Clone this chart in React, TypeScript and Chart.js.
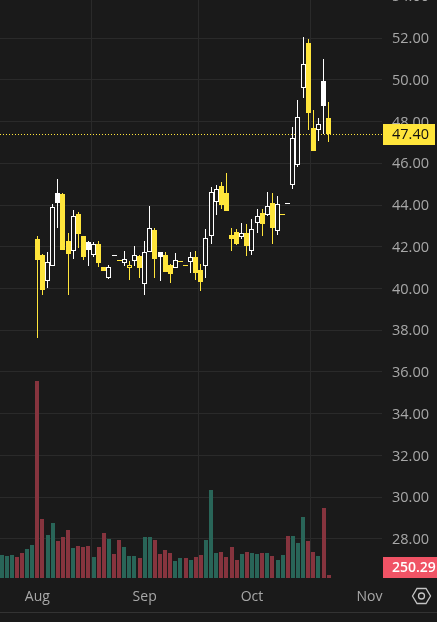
import React, { useEffect, useRef } from "react";
import { Chart, registerables } from "chart.js";

Chart.register(...registerables);

const opens = [null,null,null,null,null,null,null,42.37,41.61,40.36,41.08,44.10,44.53,42.28,41.80,43.57,42.52,41.84,41.61,42.13,41.03,40.50,41.54,41.30,41.22,41.13,41.32,41.56,40.22,41.75,42.80,41.51,41.61,41.13,40.98,41.27,41.06,41.27,41.51,40.89,41.08,42.52,44.14,44.91,44.58,42.56,42.71,42.47,42.66,41.81,43.14,43.62,43.52,44.10,42.75,43.51,44.05,44.97,45.92,49.60,51.76,47.69,47.59,48.74,48.17];
const highs = [null,null,null,null,null,null,null,42.52,41.65,41.75,44.05,45.25,44.58,42.66,43.76,43.67,42.52,42.28,42.23,42.28,41.03,41.13,41.54,41.30,41.80,41.32,42.04,41.61,42.28,43.95,42.90,41.75,41.75,41.17,41.70,41.27,41.06,41.75,41.80,41.17,42.85,44.86,44.96,45.10,45.53,42.90,42.85,43.14,43.09,43.33,43.81,43.81,44.62,44.57,44.43,43.51,44.05,47.74,49.03,52.05,51.95,48.55,48.17,50.99,48.93];
const lows = [null,null,null,null,null,null,null,37.63,39.69,40.02,41.08,42.90,41.84,39.69,41.41,41.94,41.37,41.08,41.51,41.03,40.84,40.46,41.54,41.30,41.08,40.41,41.08,40.50,39.69,41.75,40.50,40.36,40.79,40.26,40.98,41.27,41.06,40.74,40.41,39.88,40.50,42.13,43.52,43.81,43.71,41.80,42.08,42.37,41.56,41.60,42.66,42.51,43.47,42.13,42.56,43.51,44.05,44.77,45.82,49.13,47.59,46.59,47.07,47.40,47.02];
const closes = [null,null,null,null,null,null,null,41.37,39.93,41.27,43.90,44.58,41.84,41.65,43.47,42.61,41.51,42.23,42.13,41.22,40.84,41.03,41.54,41.30,41.41,40.98,41.61,40.98,41.75,42.90,41.41,41.75,40.79,40.70,41.37,41.27,41.06,41.51,40.74,40.31,42.42,44.62,44.77,44.00,43.71,42.37,42.13,42.66,42.04,42.85,43.47,43.09,43.95,42.90,44.05,43.51,44.05,47.21,48.22,50.75,48.41,46.59,47.88,49.94,47.40];
// h = hollow white, f = filled white, y = filled yellow, o = outlined yellow
const candleKinds = "-------yyhhfyyhyyfhyyhhyhohyhhyfyyhyyhyyhhhyyyyhyhhyhyhyhhhhyyhfy".split("");
const volumes = [1840,1760,1840,1680,2000,2320,2640,15760,4720,3440,4400,2960,3280,3840,2400,2560,2480,2560,1680,2480,3600,3120,1920,3040,2480,1760,1760,1600,3280,3280,3040,1920,2240,2000,1360,1600,1600,1440,1680,1840,3040,7040,2000,2080,1680,2480,1440,1920,2080,2000,1920,2000,2000,1760,1440,1840,3360,3360,2800,4880,2960,2080,1760,5600,250.29];
const volumeKinds = "gggrrggrrggrrrgrrrgrrgrrgggrggrrrrggrgrrgggrrrrgrggrgrggrgggrrgrr".split("");
const monthLabels = ["Aug", "Sep", "Oct", "Nov"];
const monthIndexes = [7, 28, 49, 72];
const lastPrice = 47.4;
const lastPriceLabel = "47.40";
const lastVolumeLabel = "250.29";

const BG = "#1a1a1a";
const GRID = "#2a2a2a";
const YELLOW = "#ffe53b";
const WHITE = "#ffffff";
const TEXT = "#a8a8a8";
const FONT = "'Open Sans'";

const snapPlugin = {
  id: "snap",
  beforeDatasetsDraw(chart: any) {
    chart.data.datasets.forEach((_: any, di: number) => {
      const meta = chart.getDatasetMeta(di);
      if (meta.type !== "bar") return;
      meta.data.forEach((el: any) => {
        if (el.skip || el.x == null) return;
        el.x = el.width % 2 ? Math.floor(el.x) + 0.5 : Math.round(el.x);
        const base = Math.round(el.base);
        let y = Math.round(el.y);
        if (y === base) y = base - 1;
        el.base = base;
        el.y = y;
      });
    });
  },
};

const overlayPlugin = {
  id: "overlay",
  beforeDatasetsDraw(chart: any) {
    const { ctx, chartArea, scales } = chart;
    const y = Math.round(scales.y.getPixelForValue(lastPrice)) + 0.5;
    ctx.save();
    ctx.strokeStyle = YELLOW;
    ctx.lineWidth = 1;
    ctx.setLineDash([1, 2]);
    ctx.beginPath();
    ctx.moveTo(chartArea.left, y);
    ctx.lineTo(chartArea.right, y);
    ctx.stroke();
    ctx.restore();
  },
  afterDraw(chart: any) {
    const { ctx, chartArea, scales, width, height } = chart;
    const left = chartArea.right + 1;
    const textX = chartArea.right + 10;
    const priceY = scales.y.getPixelForValue(lastPrice);
    const volY = chartArea.bottom;
    ctx.save();
    // bottom separator
    ctx.fillStyle = "#333333";
    ctx.fillRect(0, height - 10, width, 1);
    // price badge
    ctx.fillStyle = YELLOW;
    ctx.fillRect(left, Math.round(priceY) - 10, 52, 21);
    ctx.font = `14.5px ${FONT}`;
    ctx.textAlign = "left";
    ctx.textBaseline = "middle";
    ctx.fillStyle = "#111111";
    ctx.fillText(lastPriceLabel, textX, Math.round(priceY) + 1);
    // volume badge
    ctx.fillStyle = "#f05365";
    ctx.fillRect(left, volY - 21, width - left, 21);
    ctx.fillStyle = "#ffffff";
    ctx.font = `600 14px ${FONT}`;
    ctx.fillText(lastVolumeLabel, textX, volY - 10);
    // settings hexagon
    const cx = 421.5;
    const cy = chartArea.bottom + 18;
    ctx.strokeStyle = "#c4c4c4";
    ctx.lineWidth = 1.3;
    ctx.beginPath();
    ctx.moveTo(cx - 9, cy);
    ctx.lineTo(cx - 4.5, cy - 7.5);
    ctx.lineTo(cx + 4.5, cy - 7.5);
    ctx.lineTo(cx + 9, cy);
    ctx.lineTo(cx + 4.5, cy + 7.5);
    ctx.lineTo(cx - 4.5, cy + 7.5);
    ctx.closePath();
    ctx.stroke();
    ctx.beginPath();
    ctx.arc(cx, cy, 3, 0, Math.PI * 2);
    ctx.stroke();
    ctx.restore();
  },
};

export default function App() {
  const ref = useRef<HTMLCanvasElement>(null);
  useEffect(() => {
    document.body.style.margin = "0";
    document.body.style.overflow = "hidden";
    document.body.style.background = BG;
    const idx = opens.map((_, i) => i);
    const bodyColor = (k: string) => (k === "h" || k === "f" ? WHITE : YELLOW);
    const chart = new Chart(ref.current!, {
      type: "bar",
      data: {
        datasets: [
          {
            label: "Volume",
            yAxisID: "y1",
            order: 3,
            grouped: false,
            barThickness: 4,
            inflateAmount: 0,
            backgroundColor: volumeKinds.map((k) => (k === "g" ? "#296558" : "#86343e")),
            data: idx.map((i) => ({ x: i, y: volumes[i] })),
          },
          {
            label: "Range",
            yAxisID: "y",
            order: 2,
            grouped: false,
            barThickness: 1,
            inflateAmount: 0,
            backgroundColor: candleKinds.map(bodyColor),
            data: idx.map((i) => ({
              x: i,
              y: lows[i] == null || highs[i] === lows[i] ? null : [lows[i], highs[i]],
            })),
          },
          {
            label: "Price",
            yAxisID: "y",
            order: 1,
            grouped: false,
            barThickness: 5,
            minBarLength: 1,
            borderWidth: 1,
            borderSkipped: false,
            inflateAmount: 0,
            borderColor: candleKinds.map(bodyColor),
            backgroundColor: candleKinds.map((k) => (k === "h" || k === "o" ? BG : bodyColor(k))),
            data: idx.map((i) => ({ x: i, y: opens[i] == null ? null : [opens[i], closes[i]] })),
          },
        ] as any,
      },
      plugins: [snapPlugin, overlayPlugin] as any,
      options: {
        animation: false,
        responsive: false,
        maintainAspectRatio: false,
        layout: { padding: 0 },
        plugins: { legend: { display: false }, tooltip: { enabled: false } },
        scales: {
          x: {
            type: "linear",
            min: -0.31,
            max: 74.44,
            offset: false,
            afterFit: (s: any) => { s.height = 44; s.paddingLeft = 0; s.paddingRight = 0; },
            afterBuildTicks: (s: any) => { s.ticks = monthIndexes.map((value) => ({ value })); },
            border: { display: false },
            grid: { color: GRID, drawTicks: false, tickLength: 0 },
            ticks: {
              autoSkip: false,
              maxRotation: 0,
              padding: 11,
              color: TEXT,
              font: { family: FONT, size: 14 },
              callback: (v: any) => monthLabels[monthIndexes.indexOf(v)],
            },
          },
          y: {
            position: "right",
            min: 26.13,
            max: 54.78,
            afterFit: (s: any) => { s.width = 55; s.paddingTop = 0; s.paddingBottom = 0; },
            afterUpdate: (s: any) => {
              if (s.__nudged) return;
              s.__nudged = true;
              const compute = s._computeLabelItems.bind(s);
              s._computeLabelItems = (area: any) =>
                compute(area).map((it: any) => ({
                  ...it,
                  options: {
                    ...it.options,
                    translation: [it.options.translation[0], it.options.translation[1] + 1],
                  },
                }));
            },
            afterBuildTicks: (s: any) => {
              const t = [];
              for (let v = 28; v <= 54; v += 2) t.push({ value: v });
              s.ticks = t;
            },
            border: { display: false },
            grid: { color: GRID, drawTicks: false, tickLength: 0 },
            ticks: {
              autoSkip: false,
              padding: 10,
              color: TEXT,
              font: { family: FONT, size: 14.5 },
              callback: (v: any) => Number(v).toFixed(2),
            },
          },
          y1: { display: false, min: 0, max: 47840 },
        },
      } as any,
    });
    return () => chart.destroy();
  }, []);
  return (
    <div style={{ position: "fixed", left: 0, top: -20, width: 437, height: 642, background: BG, overflow: "hidden" }}>
      <canvas ref={ref} width={437} height={642} style={{ display: "block", width: 437, height: 642 }} />
    </div>
  );
}
